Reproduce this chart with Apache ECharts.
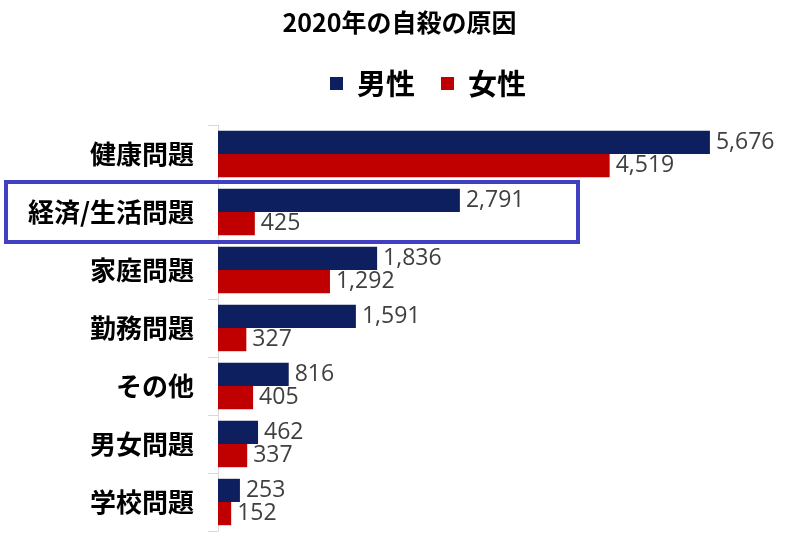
<!DOCTYPE html>
<html>
<head>
<meta charset="utf-8">
<script src="https://cdn.jsdelivr.net/npm/echarts@6/dist/echarts.min.js"></script>
<style>
    html, body { margin: 0; padding: 0; background: #fff; }
    #chart { width: 799px; height: 535px; }
</style>
</head>
<body>
<div id="chart"></div>
<script>
// 原因カテゴリ
var causes = ['健康問題', '経済/生活問題', '家庭問題', '勤務問題', 'その他', '男女問題', '学校問題'];
var maleData = [5676, 2791, 1836, 1591, 816, 462, 253];
var femaleData = [4519, 425, 1292, 327, 405, 337, 152];
var highlightCause = '経済/生活問題';

var jpFont = '"Noto Sans CJK JP", sans-serif';
var numFont = '"Open Sans", "Noto Sans", sans-serif';

var chart = echarts.init(document.getElementById('chart'));

function barLabel() {
    return {
        show: true,
        position: 'right',
        distance: 6,
        color: '#404040',
        fontFamily: numFont,
        fontSize: 23,
        formatter: function (p) {
            return p.value.toLocaleString('en-US');
        }
    };
}

var option = {
    animation: false,
    title: {
        text: '2020年の自殺の原因',
        left: 'center',
        top: 5,
        textStyle: {
            fontFamily: jpFont,
            fontWeight: 'bold',
            fontSize: 25,
            color: '#000'
        }
    },
    legend: {
        data: ['男性', '女性'],
        left: 325,
        top: 64,
        icon: 'rect',
        itemWidth: 13,
        itemHeight: 13,
        itemGap: 26,
        textStyle: {
            fontFamily: jpFont,
            fontWeight: 'bold',
            fontSize: 29,
            color: '#000',
            padding: [0, 0, 0, 9]
        }
    },
    grid: {
        left: 218,
        right: 61,
        top: 125,
        bottom: 4,
        containLabel: false
    },
    xAxis: {
        type: 'value',
        min: 0,
        max: 6000,
        show: false
    },
    yAxis: {
        type: 'category',
        data: causes,
        inverse: true,
        axisLine: { show: true, lineStyle: { color: '#d9d9d9', width: 1 } },
        axisTick: { show: true, length: 10, inside: false, lineStyle: { color: '#d9d9d9' } },
        axisLabel: {
            margin: 24,
            color: '#000',
            fontFamily: jpFont,
            fontWeight: 'bold',
            fontSize: 26
        },
        splitLine: { show: false }
    },
    series: [
        {
            name: '男性',
            type: 'bar',
            data: maleData,
            barGap: '0%',
            barCategoryGap: '20%',
            itemStyle: { color: '#0d1f5e' },
            label: barLabel()
        },
        {
            name: '女性',
            type: 'bar',
            data: femaleData,
            barGap: '0%',
            barCategoryGap: '20%',
            itemStyle: { color: '#c00000' },
            label: barLabel()
        }
    ]
};
chart.setOption(option);

/* 強調枠 */
var cy = chart.convertToPixel({ yAxisIndex: 0 }, highlightCause);
var band = chart.convertToPixel({ yAxisIndex: 0 }, causes[1]) - chart.convertToPixel({ yAxisIndex: 0 }, causes[0]);
chart.setOption({
    graphic: [{
        type: 'rect',
        shape: { x: 6, y: cy - band / 2 - 1, width: 572, height: band + 2 },
        style: { fill: 'none', stroke: '#4040c0', lineWidth: 4 },
        z: 100
    }]
});
</script>
</body>
</html>
